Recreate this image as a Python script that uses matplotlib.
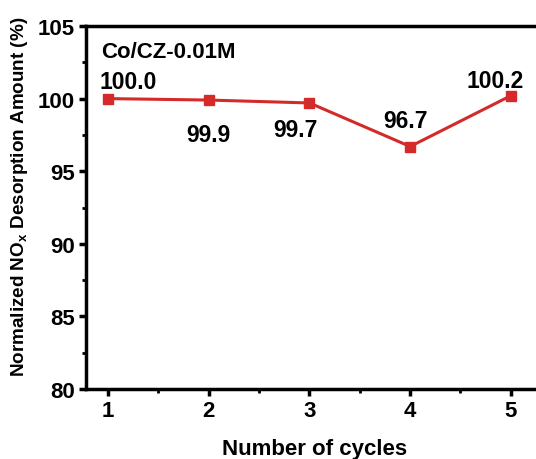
import numpy as np
import matplotlib.pyplot as plt
from matplotlib.ticker import MultipleLocator

plt.rcParams['font.family'] = ['Liberation Sans', 'DejaVu Sans']
plt.rcParams['font.weight'] = 'bold'
plt.rcParams['mathtext.fontset'] = 'custom'
plt.rcParams['mathtext.rm'] = 'Liberation Sans:bold'
plt.rcParams['mathtext.it'] = 'Liberation Sans:bold'
plt.rcParams['mathtext.bf'] = 'Liberation Sans:bold'

cycles = [1, 2, 3, 4, 5]
amount = [100.0, 99.9, 99.7, 96.7, 100.2]
labels = ["100.0", "99.9", "99.7", "96.7", "100.2"]
# label offsets in points (dx, dy)
offsets = [(14.5, 12), (0, -25), (-10, -19), (-3, 19), (-11.5, 11)]

fig = plt.figure(figsize=(5.36, 4.6), dpi=100)
ax = fig.add_axes([86/536, 70/460, 1 - 86/536, 363/460])

red = '#d42a2a'
ax.plot(cycles, amount, color=red, lw=2.2, marker='s', ms=6.5, mec=red, mfc=red)

for x, y, t, (dx, dy) in zip(cycles, amount, labels, offsets):
    ax.annotate(t, (x, y), xytext=(dx, dy), textcoords='offset points',
                ha='center', va='center', fontsize=16.5, fontweight='bold')

ax.text(0.033, 0.93, "Co/CZ-0.01M", transform=ax.transAxes, fontsize=16,
        fontweight='bold', va='center', ha='left')

ax.set_xlim(0.78, 5.25)
ax.set_ylim(80, 105)
ax.xaxis.set_major_locator(MultipleLocator(1))
ax.xaxis.set_minor_locator(MultipleLocator(0.5))
ax.yaxis.set_major_locator(MultipleLocator(5))
ax.yaxis.set_minor_locator(MultipleLocator(2.5))

ax.spines['right'].set_visible(False)
for s in ['left', 'bottom', 'top']:
    ax.spines[s].set_linewidth(2.5)
ax.tick_params(which='major', direction='out', length=5, width=2.5,
               labelsize=16, pad=3, top=False, right=False)
ax.tick_params(which='minor', direction='out', length=3, width=2,
               top=False, right=False)
for lab in ax.get_xticklabels() + ax.get_yticklabels():
    lab.set_fontweight('bold')

ax.set_xlabel("Number of cycles", fontsize=16, fontweight='bold')
ax.set_ylabel("Normalized NO$_x$ Desorption Amount (%)", fontsize=13.6,
              fontweight='bold')
ax.xaxis.set_label_coords(0.509, -0.165)
ax.yaxis.set_label_coords(-0.147, 0.533)
ax.xaxis.label.set_va('center')
ax.yaxis.label.set_va('center')

fig.savefig('out.png', dpi=100)
